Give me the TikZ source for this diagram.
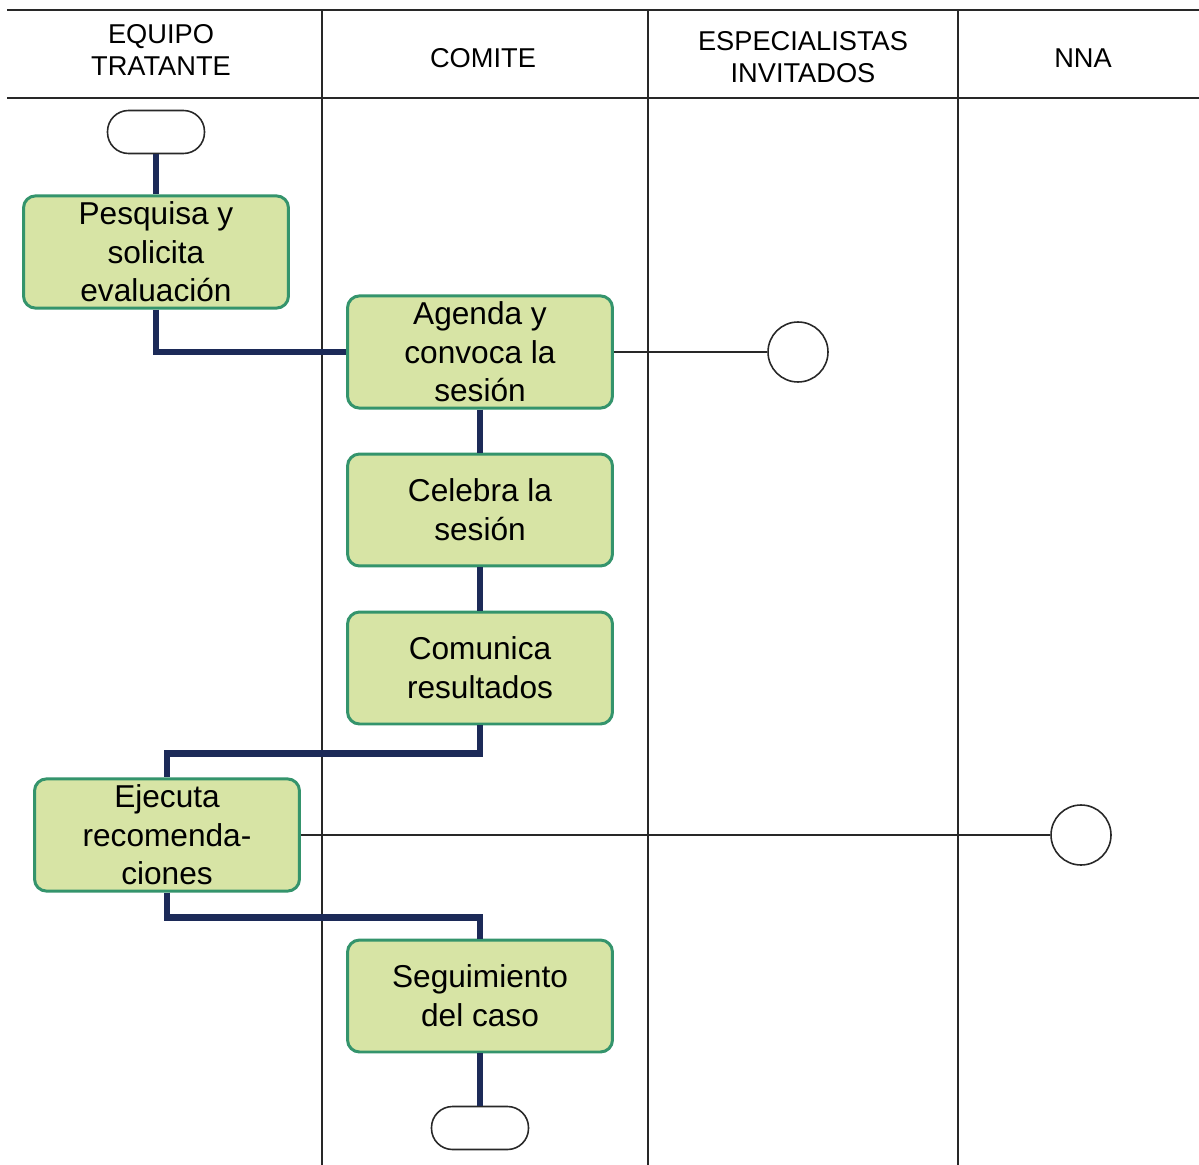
\documentclass[tikz,border=0pt]{standalone}
\usepackage{fontspec}
\setmainfont{Liberation Sans}
\definecolor{actfill}{RGB}{215,228,165}
\definecolor{actline}{RGB}{52,148,108}
\definecolor{flownavy}{RGB}{28,42,88}
\definecolor{laneline}{RGB}{40,40,40}
\usetikzlibrary{positioning,calc}

\begin{document}
\begin{tikzpicture}[x=0.02cm, y=-0.02cm,
  actbox/.style={draw=actline, line width=1.7pt, fill=actfill, rounded corners=0.24cm,
    minimum width=5.3cm, minimum height=2.24cm, align=center,
    font=\fontsize{18}{22}\selectfont},
  endcap/.style={draw=laneline, line width=0.9pt, fill=white, rounded corners=0.42cm,
    minimum width=1.94cm, minimum height=0.86cm},
  lanehead/.style={align=center, font=\fontsize{15.5}{18.5}\selectfont},
  msgcircle/.style={draw=laneline, line width=0.9pt, circle, minimum size=1.2cm, fill=white},
  flow/.style={flownavy, line width=3.8pt},
  msg/.style={laneline, line width=0.9pt}]

\useasboundingbox (0,0) rectangle (1199,1165);

% swimlanes
\draw[laneline, line width=0.9pt] (7,10) -- (1199,10);
\draw[laneline, line width=0.9pt] (7,98) -- (1199,98);
\foreach \lx in {322,648,958}
  \draw[laneline, line width=0.9pt] (\lx,10) -- (\lx,1165);

\node[lanehead] (h1) at (161,50) {EQUIPO\\TRATANTE};
\node[lanehead] (h2) at (483,58) {COMITE};
\node[lanehead] (h3) at (803,57) {ESPECIALISTAS\\INVITADOS};
\node[lanehead] (h4) at (1083,58) {NNA};

% activities
\node[endcap] (start) at (156,132) {};
\node[actbox] (pesq) at (156,252) {Pesquisa y\\solicita\\evaluación};
\node[actbox] (agen) at (480,352) {Agenda y\\convoca la\\sesión};
\node[actbox] (cele) at (480,510) {Celebra la\\sesión};
\node[actbox] (comu) at (480,668) {Comunica\\resultados};
\node[actbox] (ejec) at (167,835) {Ejecuta\\recomenda-\\ciones};
\node[actbox] (segu) at (480,996) {Seguimiento\\del caso};
\node[endcap] (stop) at (480,1128) {};

\node[msgcircle] (espc) at (798,352) {};
\node[msgcircle] (nnac) at (1081,835) {};

% flow
\draw[flow] (start.south) -- (pesq.north);
\draw[flow] (pesq.south) |- (agen.west);
\draw[flow] (agen.south) -- (cele.north);
\draw[flow] (cele.south) -- (comu.north);
\draw[flow] (comu.south) -- ++(0,28) -| (ejec.north);
\draw[flow] (ejec.south) -- ++(0,25) -| (segu.north);
\draw[flow] (segu.south) -- (stop.north);

% messages
\draw[msg] (agen.east) -- (espc.west);
\draw[msg] (ejec.east) -- (nnac.west);

\end{tikzpicture}
\end{document}
